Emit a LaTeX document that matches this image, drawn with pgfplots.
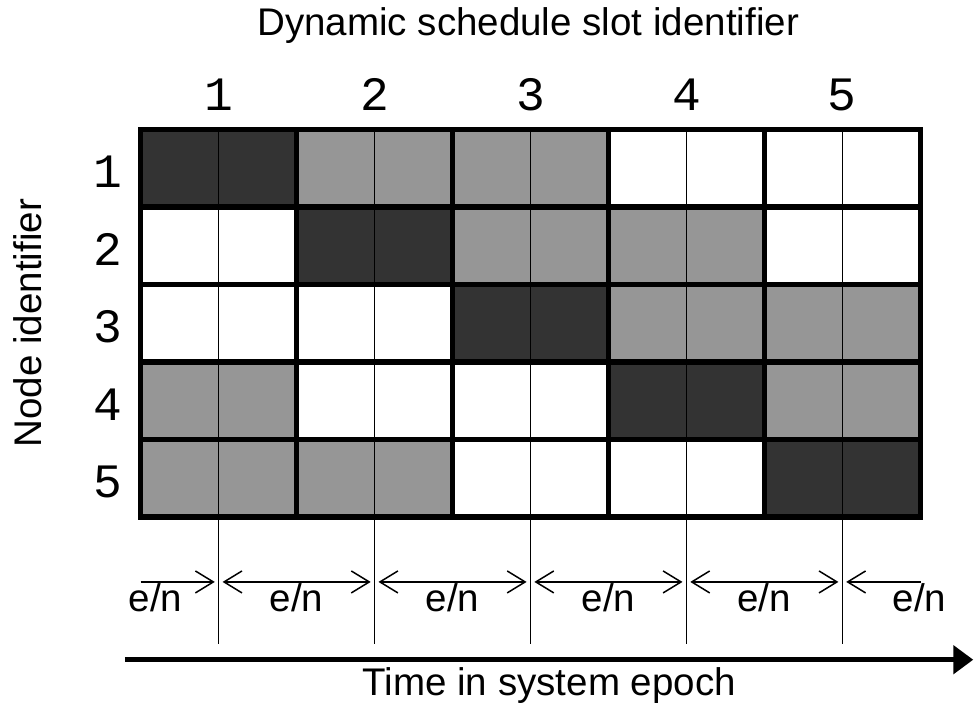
\documentclass[border=0pt]{standalone}
\usepackage{fontspec}
\setmainfont{Liberation Sans}
\setmonofont{Liberation Mono}
\usepackage{pgfplots}
\usepackage{pgfplotstable}
\pgfplotsset{compat=1.18}
\usetikzlibrary{arrows.meta}

% 0 = free, 1 = shared, 2 = owner
\pgfplotsset{colormap={slots}{rgb255=(255,255,255) rgb255=(150,150,150) rgb255=(51,51,51)}}

\pgfplotstableread{
x y c
0.5 1 1
1.5 1 1
2.5 1 1
3.5 1 1
4.5 1 0
5.5 1 0
6.5 1 0
7.5 1 0
8.5 1 2
9.5 1 2
0.5 2 1
1.5 2 1
2.5 2 0
3.5 2 0
4.5 2 0
5.5 2 0
6.5 2 2
7.5 2 2
8.5 2 1
9.5 2 1
0.5 3 0
1.5 3 0
2.5 3 0
3.5 3 0
4.5 3 2
5.5 3 2
6.5 3 1
7.5 3 1
8.5 3 1
9.5 3 1
0.5 4 0
1.5 4 0
2.5 4 2
3.5 4 2
4.5 4 1
5.5 4 1
6.5 4 1
7.5 4 1
8.5 4 0
9.5 4 0
0.5 5 2
1.5 5 2
2.5 5 1
3.5 5 1
4.5 5 1
5.5 5 1
6.5 5 0
7.5 5 0
8.5 5 0
9.5 5 0
}\slotdata

\newcommand\lbl{\fontsize{19.3}{22}\selectfont}

\begin{document}
\begin{tikzpicture}
\path (0,0) rectangle (488pt,-359pt);
\begin{axis}[
  at={(70.5pt,-259pt)}, anchor=south west,
  scale only axis, width=390.5pt, height=194.25pt,
  xmin=0, xmax=10, ymin=0.5, ymax=5.5,
  axis on top, clip=false,
  colormap name=slots, colormap access=direct,
  xtick={1,3,5,7,9}, xticklabels={1,2,3,4,5},
  ytick={1,...,5}, yticklabels={5,4,3,2,1},
  xticklabel pos=upper,
  minor xtick={2,4,6,8}, minor ytick={1.5,2.5,3.5,4.5},
  xmajorgrids, xminorgrids, yminorgrids,
  major grid style={black, line width=0.55pt},
  minor grid style={black, line width=2.75pt},
  axis line style={black, line width=2.75pt},
  major tick length=0pt, minor tick length=0pt,
  tick label style={font=\fontsize{24}{24}\selectfont\ttfamily},
  xticklabel style={anchor=base, yshift=9.4pt},
  yticklabel style={anchor=base, xshift=-16.5pt, yshift=-9.8pt},
]
\addplot[matrix plot*, mesh/cols=10, mesh/rows=5, point meta=explicit]
  table[x=x, y=y, meta=c] {\slotdata};

\pgfplotsinvokeforeach{1,3,5,7,9}{
  \draw[black, line width=0.55pt] (axis cs:#1,0.5) -- (axis cs:#1,-1.134);
}
\draw[line width=0.75pt, -{Straight Barb[length=9pt,width=11pt]}]
  (axis cs:0,-0.337) -- (axis cs:0.95,-0.337);
\pgfplotsinvokeforeach{1,3,5,7}{
  \draw[line width=0.75pt, {Straight Barb[length=9pt,width=11pt]}-{Straight Barb[length=9pt,width=11pt]}]
    (axis cs:#1+0.05,-0.337) -- (axis cs:#1+1.95,-0.337);
}
\draw[line width=0.75pt, {Straight Barb[length=9pt,width=11pt]}-]
  (axis cs:9.05,-0.337) -- (axis cs:10.01,-0.337);

\pgfplotsinvokeforeach{0.19,2,4,6,8,9.99}{
  \node[anchor=base, font=\lbl, inner sep=0pt] at (axis cs:#1,-0.723) {e/n};
}

\draw[line width=2.75pt, -{Triangle[length=10pt,width=14pt]}]
  (axis cs:-0.205,-1.34) -- (axis cs:10.68,-1.34);

\node[anchor=base, font=\lbl, inner sep=0pt] at (axis cs:4.97,6.703) {Dynamic schedule slot identifier};
\node[anchor=base, font=\lbl, inner sep=0pt, rotate=90] at (axis cs:-1.268,3) {Node identifier};
\node[anchor=base, font=\lbl, inner sep=0pt] at (axis cs:5.24,-1.804) {Time in system epoch};
\end{axis}
\end{tikzpicture}
\end{document}
